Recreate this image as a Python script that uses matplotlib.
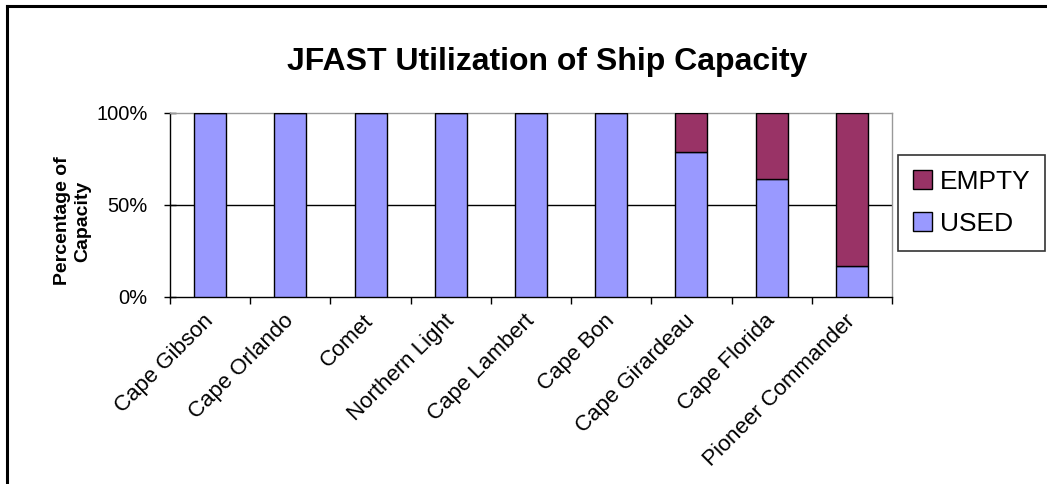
import matplotlib
matplotlib.use("Agg")
import matplotlib.pyplot as plt
from matplotlib.lines import Line2D
import numpy as np

ships = ["Cape Gibson", "Cape Orlando", "Comet", "Northern Light", "Cape Lambert",
         "Cape Bon", "Cape Girardeau", "Cape Florida", "Pioneer Commander"]
used = [1.00, 1.00, 1.00, 1.00, 1.00, 1.00, 0.79, 0.64, 0.17]
empty = [0.00, 0.00, 0.00, 0.00, 0.00, 0.00, 0.21, 0.36, 0.83]
yticks = [0, 0.5, 1.0]
ytick_labels = ["0%", "50%", "100%"]

used_color = "#9999FF"
empty_color = "#993366"

plt.rcParams['font.family'] = ['Liberation Sans', 'DejaVu Sans']

W, H = 1047, 484
fig = plt.figure(figsize=(W / 100, H / 100), dpi=100)

# axes placement in pixels
ax_l, ax_r, ax_t, ax_b = 170, 892, 113, 297
ax = fig.add_axes([ax_l / W, 1 - ax_b / H, (ax_r - ax_l) / W, (ax_b - ax_t) / H])

x = np.arange(len(ships))
b_used = ax.bar(x, used, width=0.4, color=used_color, edgecolor="black", linewidth=1.0,
                zorder=3, label="USED")
b_empty = ax.bar(x, empty, width=0.4, bottom=used, color=empty_color, edgecolor="black",
                 linewidth=1.0, zorder=3, label="EMPTY")

ax.set_xlim(-0.5, len(ships) - 0.5)
ax.set_ylim(0, 1.0)
ax.axhline(0.5, color="black", linewidth=1.0, zorder=1)

ax.set_yticks(yticks)
ax.set_yticklabels(ytick_labels, fontsize=14.5)
ax.tick_params(axis="y", direction="inout", length=8, width=1, pad=12)

ax.set_xticks(x)
ax.set_xticklabels(ships, rotation=45, ha="right", va="center", rotation_mode="anchor",
                   fontsize=16)
ax.tick_params(axis="x", which="major", length=0, pad=15)
ax.set_xticks(np.arange(-0.5, len(ships)), minor=True)
ax.tick_params(axis="x", which="minor", direction="out", length=5, width=1)

for s in ["top", "right"]:
    ax.spines[s].set_color("#999999")
    ax.spines[s].set_linewidth(1.0)
for s in ["left", "bottom"]:
    ax.spines[s].set_color("black")
    ax.spines[s].set_linewidth(1.0)

ax.set_ylabel("Percentage of\nCapacity", fontsize=14, fontweight="bold")
ax.yaxis.set_label_coords((91 - ax_l) / (ax_r - ax_l), (ax_b - 221) / (ax_b - ax_t))

fig.text(547 / W, 1 - 62 / H, "JFAST Utilization of Ship Capacity", ha="center", va="center",
         fontsize=23, fontweight="bold")

leg = fig.legend(handles=[b_empty, b_used], labels=["EMPTY", "USED"],
                 loc="upper left", bbox_to_anchor=(898 / W, 1 - 155 / H),
                 frameon=True, fancybox=False, edgecolor="black", fontsize=19,
                 handlelength=0.75, handleheight=0.75, handletextpad=0.3,
                 borderpad=0.55, labelspacing=0.7, borderaxespad=0)
leg.get_frame().set_linewidth(1.2)

# outer frame (top and left edges visible)
fig.add_artist(Line2D([7 / W, 7 / W], [0, 1 - 6 / H], transform=fig.transFigure,
                      color="black", linewidth=2.2))
fig.add_artist(Line2D([7 / W, 1], [1 - 6 / H, 1 - 6 / H], transform=fig.transFigure,
                      color="black", linewidth=2.2))

fig.savefig("out.png", dpi=100, facecolor="white")
